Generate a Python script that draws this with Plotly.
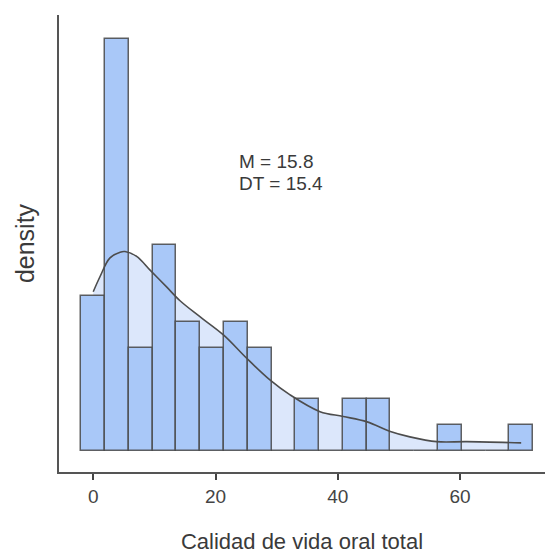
import plotly.graph_objects as go

# Histogram data (counts per bin, 19 bins spanning 0..70 centres)
bin_centers = [0.0, 3.889, 7.778, 11.667, 15.556, 19.444, 23.333, 27.222, 31.111,
               35.0, 38.889, 42.778, 46.667, 50.556, 54.444, 58.333, 62.222, 66.111, 70.0]
bin_counts = [6, 16, 4, 8, 5, 4, 5, 4, 0, 2, 0, 2, 2, 0, 0, 1, 0, 0, 1]
bin_width = 3.889

# Density curve
kde_x = [0.0, 1.1, 2.7, 4.4, 5.2, 7.1, 9.3, 12.0, 14.2, 17.5, 21.3, 25.1, 28.9,
         32.2, 37.1, 40.9, 44.8, 48.6, 51.8, 56.2, 61.1, 70.0]
kde_y = [0.0265, 0.0290, 0.0321, 0.0331, 0.0332, 0.0324, 0.0301, 0.0273, 0.0250,
         0.0223, 0.0193, 0.0154, 0.0118, 0.0093, 0.0065, 0.0057, 0.0048, 0.0032,
         0.0023, 0.0015, 0.0015, 0.0013]

x_ticks = [0, 20, 40, 60]
stats_lines = ["M = 15.8", "DT = 15.4"]

n_total = sum(bin_counts)
bin_density = [c / (n_total * bin_width) for c in bin_counts]
unit = 1 / (n_total * bin_width)

FONT = "Liberation Sans, Arial, sans-serif"
TXT = "#3a3a3a"

fig = go.Figure()
# density fill (underneath bars)
fig.add_trace(go.Scatter(x=kde_x, y=kde_y, mode="lines", line=dict(width=0, shape="spline"),
                         fill="tozeroy", fillcolor="#dce7fb", hoverinfo="skip",
                         xaxis="x", yaxis="y", showlegend=False))
# bars
fig.add_trace(go.Bar(x=bin_centers, y=bin_density, width=bin_width,
                     marker=dict(color="#a9c8f8", line=dict(color="rgba(70,70,70,0.85)", width=1.5)),
                     xaxis="x2", yaxis="y2", showlegend=False))
# density line
fig.add_trace(go.Scatter(x=kde_x, y=kde_y, mode="lines",
                         line=dict(color="#4d4d4d", width=1.6, shape="spline"),
                         xaxis="x2", yaxis="y2", showlegend=False))

xr = [-5.6, 73.9]
yr = [-0.83 * unit, 16.95 * unit]

fig.update_layout(
    width=545, height=554,
    margin=dict(l=59, r=0, t=15, b=82),
    paper_bgcolor="white", plot_bgcolor="white",
    font=dict(family=FONT, color=TXT),
    bargap=0,
    xaxis=dict(range=xr, tickvals=x_ticks, ticks="outside", ticklen=6, tickwidth=1.5,
               tickcolor="#444444", showline=True, linecolor="#555555", linewidth=1.5,
               showgrid=False, zeroline=False, tickfont=dict(size=19, color="#444444"),
               title=dict(text="Calidad de vida oral total", font=dict(size=22, color=TXT), standoff=31)),
    yaxis=dict(range=yr, showticklabels=False, ticks="", showline=True, linecolor="#555555",
               linewidth=1.5, showgrid=False, zeroline=False,
               title=dict(text="density", font=dict(size=25, color=TXT), standoff=16)),
    xaxis2=dict(range=xr, overlaying="x", visible=False),
    yaxis2=dict(range=yr, overlaying="y", visible=False),
)

fig.add_annotation(x=23.5, y=11.25 * unit, text=stats_lines[0], showarrow=False,
                   xanchor="left", yanchor="middle", font=dict(size=19, color=TXT), xref="x", yref="y")
fig.add_annotation(x=23.5, y=10.4 * unit, text=stats_lines[1], showarrow=False,
                   xanchor="left", yanchor="middle", font=dict(size=19, color=TXT), xref="x", yref="y")

fig.write_html("out.html")
